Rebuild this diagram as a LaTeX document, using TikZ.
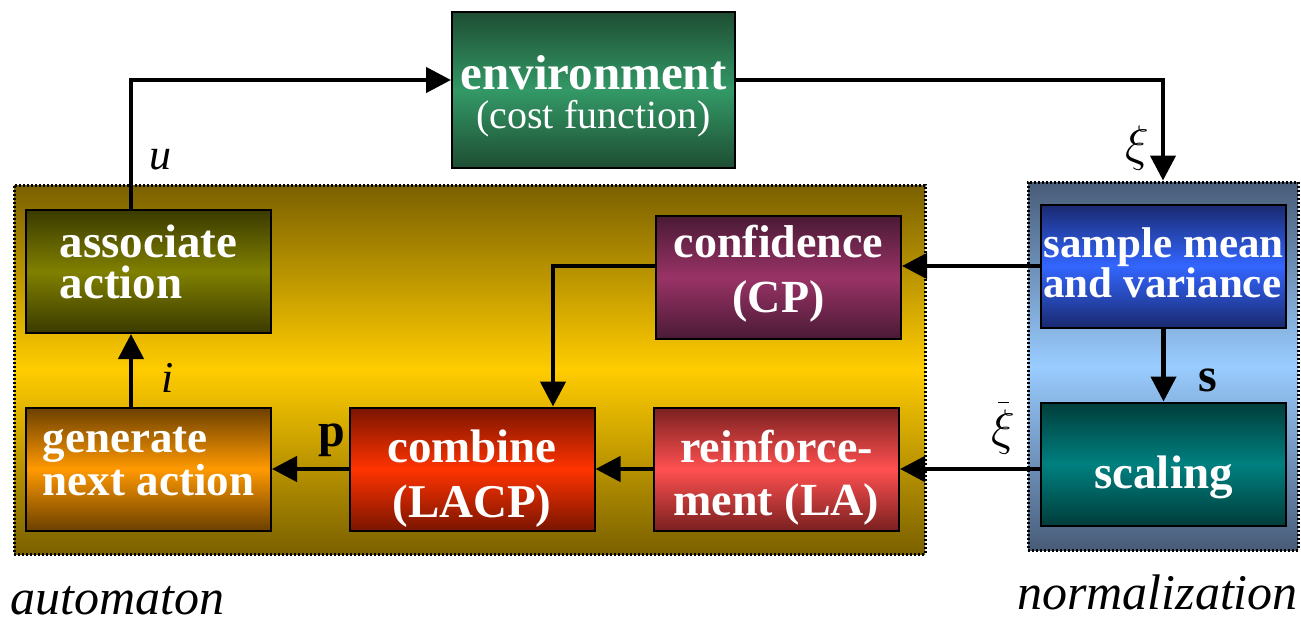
\documentclass[tikz,border=0pt]{standalone}
\usepackage{fix-cm}
\usepackage{fontspec}
\setmainfont{Liberation Serif}
\usetikzlibrary{arrows.meta,calc}
\definecolor{autotop}{HTML}{7A6000}
\definecolor{automid}{HTML}{FFCC00}
\definecolor{normtop}{HTML}{485C78}
\definecolor{normmid}{HTML}{99CCFF}
\definecolor{envtop}{HTML}{1E4D33}
\definecolor{envmid}{HTML}{339966}
\definecolor{astop}{HTML}{3A3A00}
\definecolor{asmid}{HTML}{808000}
\definecolor{gentop}{HTML}{6B4000}
\definecolor{genmid}{HTML}{FF9900}
\definecolor{comtop}{HTML}{7A1500}
\definecolor{commid}{HTML}{FF3300}
\definecolor{reitop}{HTML}{7A2020}
\definecolor{reimid}{HTML}{FF5050}
\definecolor{contop}{HTML}{4A1A35}
\definecolor{conmid}{HTML}{993366}
\definecolor{samtop}{HTML}{1A2A70}
\definecolor{sammid}{HTML}{3366FF}
\definecolor{scatop}{HTML}{003D3A}
\definecolor{scamid}{HTML}{008080}
\begin{document}
\begin{tikzpicture}[x=1pt,y=-1pt,
  blk/.style={draw=black, line width=2pt, minimum width=245pt, minimum height=123pt,
    inner sep=0pt, text=white, align=center},
  shd/.style 2 args={top color=#1, bottom color=#1, middle color=#2},
  tb/.style 2 args={text height=#1, text depth=#2},
  grp/.style={draw=black, line width=3pt, dash pattern=on 2pt off 2pt, inner sep=0pt},
  arr/.style={line width=4.5pt, -{Triangle[length=25pt,width=25pt]}},
  lab/.style={inner sep=0pt}
]
\useasboundingbox (0,0) rectangle (1301,621);
% groups
\node[grp, shd={autotop}{automid}, minimum width=911pt, minimum height=369pt] (auto) at (469.5,369.5) {};
\node[grp, shd={normtop}{normmid}, minimum width=270pt, minimum height=368pt] (norm) at (1163,366) {};
% blocks
\node[blk, shd={envtop}{envmid}, minimum width=283pt, minimum height=156pt, tb={76pt}{0pt},
  font=\bfseries\fontsize{49}{39}\selectfont] (env) at (593.5,90)
  {environment\\{\mdseries\fontsize{40}{39}\selectfont (cost function)}};
\node[blk, shd={astop}{asmid}, align=left, tb={53pt}{0pt}, font=\bfseries\fontsize{47}{41}\selectfont] (assoc) at (148.5,271.5) {associate\\action};
\node[blk, shd={gentop}{genmid}, align=left, tb={52pt}{0pt}, font=\bfseries\fontsize{45}{37}\selectfont] (gen) at (148.5,469) {generate\\next action};
\node[blk, shd={comtop}{commid}, tb={96pt}{0pt}, font=\bfseries\fontsize{47}{55}\selectfont] (comb) at (472,469) {combine\\(LACP)};
\node[blk, shd={reitop}{reimid}, tb={92pt}{0pt}, font=\bfseries\fontsize{46}{53}\selectfont] (reinf) at (776.5,469) {reinforce-\\ment (LA)};
\node[blk, shd={contop}{conmid}, tb={69pt}{0pt}, font=\bfseries\fontsize{46}{55}\selectfont] (conf) at (778.5,277.5) {confidence\\(CP)};
\node[blk, shd={samtop}{sammid}, align=left, tb={62pt}{0pt}, font=\bfseries\fontsize{43}{40}\selectfont] (samp) at (1163.5,266) {sample mean\\and variance};
\node[blk, shd={scatop}{scamid}, tb={48pt}{0pt}, font=\bfseries\fontsize{47}{47}\selectfont] (scal) at (1163.5,464) {scaling};
% connectors
\draw[arr] ([xshift=-17.5pt]assoc.north) |- ([yshift=10pt]env.west);
\draw[arr] ([yshift=10pt]env.east) -| (norm.north);
\draw[arr] (samp.west) -- (samp.west -| conf.east);
\draw[arr] (samp.west -| conf.west) -| ([xshift=81pt]comb.north);
\draw[arr] (samp.south) -- (scal.north);
\draw[arr] (scal.west |- reinf.east) -- (reinf.east);
\draw[arr] (reinf.west) -- (comb.east);
\draw[arr] (comb.west) -- (gen.east);
\draw[arr] ([xshift=-17.5pt]gen.north) -- ([xshift=-17.5pt]assoc.south);
% labels
\node[lab, font=\itshape\fontsize{44}{44}\selectfont] (lu) at (160,160) {u};
\node[lab, font=\itshape\fontsize{44}{44}\selectfont] (li) at (168,378) {i};
\node[lab, font=\bfseries\fontsize{48}{48}\selectfont] (lp) at (332,440) {p};
\node[lab, font=\bfseries\fontsize{48}{48}\selectfont] (ls) at (1208,380) {s};
\node[lab, font=\fontsize{50}{50}\selectfont] (lxi) at (1137,148) {$\xi$};
\node[lab, align=center, font=\fontsize{50}{48}\selectfont] (lxib) at (1003,428) {\rule{11pt}{1.5pt}\\[-7pt]$\xi$};
\node[lab, anchor=base west, font=\itshape\fontsize{50}{50}\selectfont] (lauto) at (10,614) {automaton};
\node[lab, anchor=base east, font=\itshape\fontsize{50}{50}\selectfont] (lnorm) at (1298,609) {normalization};
\end{tikzpicture}
\end{document}
